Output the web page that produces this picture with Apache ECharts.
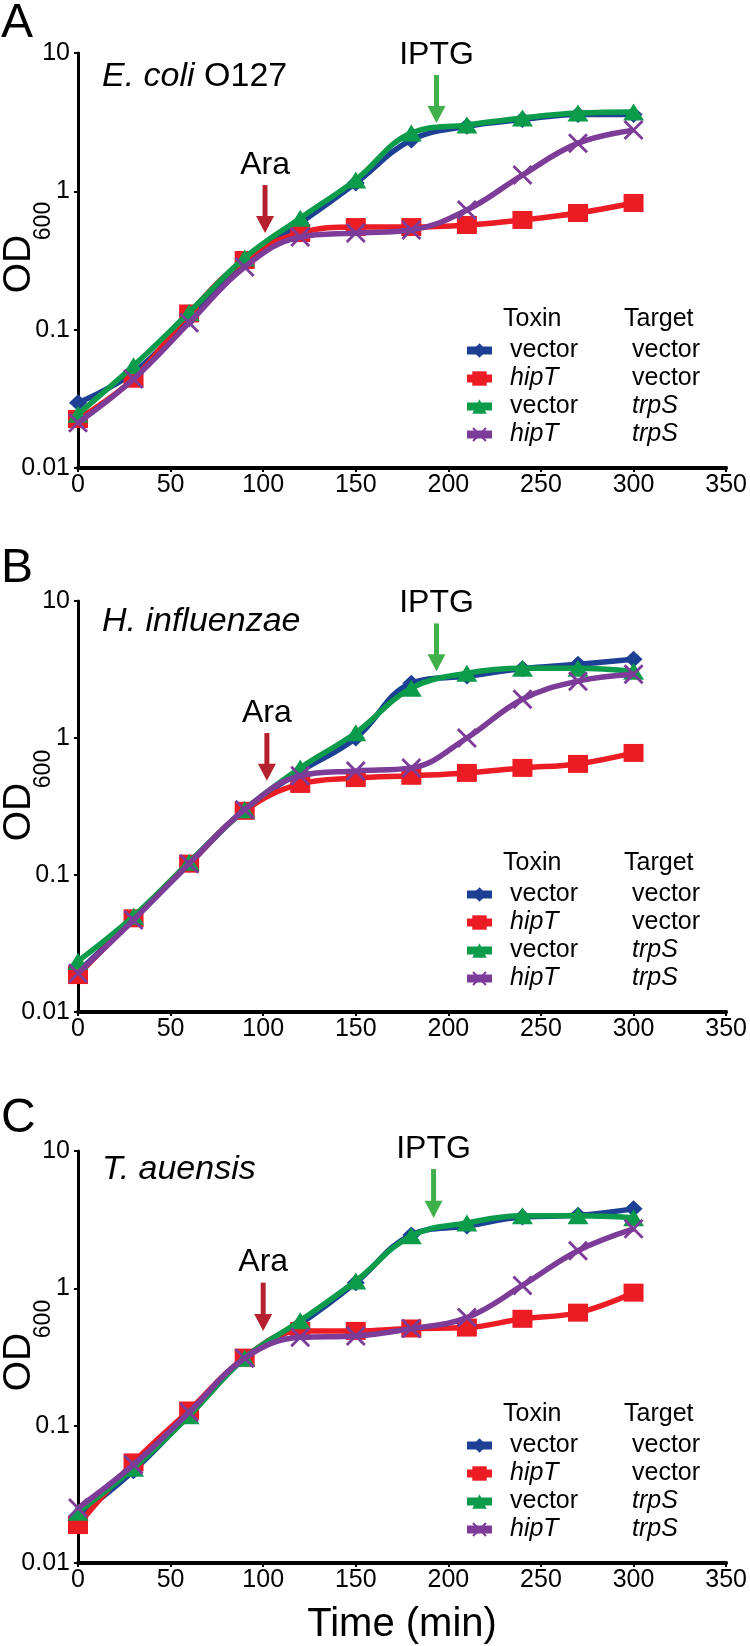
<!DOCTYPE html>
<html><head><meta charset="utf-8">
<script src="https://cdn.jsdelivr.net/npm/echarts@6/dist/echarts.min.js"></script>
<style>html,body{margin:0;padding:0;background:#fff}#c{width:750px;height:1646px}</style>
</head><body><div id="c"></div>
<script>
// ---- data ----
const times = [0, 30, 60, 90, 120, 150, 180, 210, 240, 270, 300];
const xTicks = [0, 50, 100, 150, 200, 250, 300, 350];
const yTicks = [0.01, 0.1, 1, 10];
const panelLetters = ['A', 'B', 'C'];
const species = [['E. coli', ' O127'], ['H. influenzae', ''], ['T. auensis', '']];
const legendToxin = ['vector', 'hipT', 'vector', 'hipT'];
const legendTarget = ['vector', 'vector', 'trpS', 'trpS'];

// Panel A (E. coli O127)
const aVecVec = [0.0296, 0.049, 0.12, 0.31, 0.59, 1.15, 2.35, 2.95, 3.3, 3.6, 3.6];
const aHipVec = [0.0226, 0.0442, 0.131, 0.319, 0.50, 0.552, 0.552, 0.571, 0.621, 0.697, 0.824];
const aVecTrp = [0.0245, 0.0548, 0.133, 0.33, 0.64, 1.21, 2.64, 3.02, 3.39, 3.68, 3.75];
const aHipTrp = [0.0212, 0.044, 0.112, 0.284, 0.468, 0.50, 0.526, 0.733, 1.31, 2.23, 2.77];
// Panel B (H. influenzae)
const bVecVec = [0.0195, 0.048, 0.12, 0.30, 0.57, 1.0, 2.51, 2.83, 3.2, 3.45, 3.76];
const bHipVec = [0.0186, 0.0483, 0.121, 0.294, 0.462, 0.51, 0.53, 0.556, 0.605, 0.647, 0.778];
const bVecTrp = [0.0235, 0.05, 0.124, 0.30, 0.605, 1.09, 2.31, 2.97, 3.23, 3.23, 3.07];
const bHipTrp = [0.0192, 0.047, 0.121, 0.30, 0.53, 0.575, 0.605, 1.0, 1.92, 2.6, 2.92];
// Panel C (T. auensis)
const cVecVec = [0.022, 0.047, 0.12, 0.31, 0.55, 1.1, 2.45, 2.84, 3.3, 3.4, 3.79];
const cHipVec = [0.0189, 0.054, 0.129, 0.313, 0.49, 0.49, 0.51, 0.518, 0.60, 0.665, 0.93];
const cVecTrp = [0.0234, 0.049, 0.118, 0.31, 0.58, 1.13, 2.41, 2.99, 3.37, 3.37, 3.26];
const cHipTrp = [0.0251, 0.052, 0.125, 0.31, 0.44, 0.45, 0.509, 0.612, 1.05, 1.88, 2.71];

// induction arrows: [time, OD at arrow top, OD at arrow tip]
const araArrows = [[101, 1.11, 0.5], [102, 1.087, 0.487], [100, 1.1, 0.49]];
const iptgArrows = [[193.6, 6.93, 3.12], [193.6, 6.86, 3.07], [192, 7.39, 3.26]];

// ---- layout / style ----
const FONT = "'Liberation Sans', Arial, Helvetica, sans-serif";
const gridTops = [53, 601, 1151];
const gridHeights = [415, 411, 412];
const GL = 78, GW = 649;
const colors = ['#1d3f94', '#ec1c24', '#0c9a4b', '#7c3c98'];
const symbols = ['diamond', 'rect', 'triangle',
  'path://M0,2 L2,0 L10,8 L18,0 L20,2 L12,10 L20,18 L18,20 L10,12 L2,20 L0,18 L8,10 Z'];
const symSizes = [[18, 17], [20, 18], [21, 17], [20, 20]];
const panelData = [[aVecVec, aHipVec, aVecTrp, aHipTrp], [bVecVec, bHipVec, bVecTrp, bHipTrp], [cVecVec, cHipVec, cVecTrp, cHipTrp]];
const seriesNames = legendToxin.map((t, i) => t + ' / ' + legendTarget[i]);

const grids = [], xAxes = [], yAxes = [], series = [], legends = [];
for (let p = 0; p < 3; p++) {
  grids.push({ left: GL, width: GW, top: gridTops[p], height: gridHeights[p] });
  xAxes.push({
    gridIndex: p, type: 'value', min: 0, max: 350, interval: 50,
    axisLine: { onZero: false, lineStyle: { color: '#000', width: 4 } },
    axisTick: { show: true, length: 4, lineStyle: { color: '#000', width: 2 } },
    axisLabel: { color: '#000', fontSize: 25, fontFamily: FONT, margin: 5,
      formatter: v => xTicks.indexOf(v) >= 0 ? String(v) : '' },
    splitLine: { show: false },
    name: p === 2 ? 'Time (min)' : '', nameLocation: 'middle', nameGap: 42,
    nameTextStyle: { color: '#000', fontSize: 40, fontFamily: FONT }
  });
  yAxes.push({
    gridIndex: p, type: 'log', logBase: 10, min: yTicks[0], max: yTicks[yTicks.length - 1],
    axisLine: { show: true, lineStyle: { color: '#000', width: 3 } },
    axisTick: { show: true, length: 4, lineStyle: { color: '#000', width: 2 } },
    axisLabel: { color: '#000', fontSize: 25, fontFamily: FONT, margin: 8,
      formatter: v => String(Number(Number(v).toPrecision(2))) },
    splitLine: { show: false }, minorTick: { show: false }
  });
  for (let s = 0; s < 4; s++) {
    series.push({
      type: 'line', name: seriesNames[s], xAxisIndex: p, yAxisIndex: p,
      data: times.map((t, i) => [t, panelData[p][s][i]]),
      smooth: 0.4, symbol: symbols[s], symbolSize: symSizes[s], showSymbol: true,
      lineStyle: { color: colors[s], width: 5.5 },
      itemStyle: { color: colors[s], borderWidth: 0 },
      z: 2 + s, emphasis: { disabled: true }, silent: true
    });
  }
  const bottom = gridTops[p] + gridHeights[p];
  legends.push({
    orient: 'vertical', left: 458, top: bottom - 135, itemWidth: 25, itemHeight: 18, itemGap: 3,
    data: seriesNames, selectedMode: false,
    lineStyle: { width: 8 },
    formatter: name => {
      const i = seriesNames.indexOf(name);
      const a = legendToxin[i], b = legendTarget[i];
      return '{s|}' + (a === 'hipT' ? '{i|' : '{n|') + a + '}' + (b === 'trpS' ? '{i|' : '{n|') + b + '}';
    },
    textStyle: {
      color: '#000', fontFamily: FONT, fontSize: 25,
      rich: {
        s: { width: 13 },
        n: { width: 122, fontSize: 25, fontFamily: FONT, color: '#000', lineHeight: 26 },
        i: { width: 122, fontSize: 25, fontFamily: FONT, color: '#000', fontStyle: 'italic', lineHeight: 26 }
      }
    }
  });
}

const chart = echarts.init(document.getElementById('c'), null, { renderer: 'canvas' });
chart.setOption({
  animation: false, backgroundColor: '#fff',
  grid: grids, xAxis: xAxes, yAxis: yAxes, series: series, legend: legends
});

// ---- annotations (text + arrows positioned through the axes) ----
const graphics = [];
const titleY = [24, 569, 1119];
const speciesY = [77, 622, 1170];
function txt(x, y, text, size, extra) {
  return Object.assign({ type: 'text', x: x, y: y, z: 50,
    style: Object.assign({ text: text, fill: '#000', font: size + 'px ' + FONT,
      textVerticalAlign: 'middle' }, extra || {}) });
}
function arrow(p, a, color, label) {
  const top = chart.convertToPixel({ gridIndex: p }, [a[0], a[1]]);
  const tip = chart.convertToPixel({ gridIndex: p }, [a[0], a[2]]);
  const x = top[0], hh = 17, hw = 9;
  graphics.push({ type: 'rect', z: 40, shape: { x: x - 2.5, y: top[1], width: 5, height: tip[1] - top[1] - hh + 1 }, style: { fill: color } });
  graphics.push({ type: 'polygon', z: 40, shape: { points: [[x - hw, tip[1] - hh], [x + hw, tip[1] - hh], [x, tip[1]]] }, style: { fill: color } });
  graphics.push(txt(x, top[1] - 20, label, 32, { textAlign: 'center' }));
}
for (let p = 0; p < 3; p++) {
  const bottom = gridTops[p] + gridHeights[p];
  graphics.push(txt(1, titleY[p], panelLetters[p], 48));
  graphics.push({ type: 'text', x: 102, y: speciesY[p], z: 50,
    style: { text: '{i|' + species[p][0] + '}' + (species[p][1] ? '{n|' + species[p][1] + '}' : ''),
      textVerticalAlign: 'middle', fill: '#000',
      rich: { i: { fontSize: 34, fontFamily: FONT, fontStyle: 'italic', fill: '#000' },
              n: { fontSize: 34, fontFamily: FONT, fill: '#000' } } } });
  // y-axis title OD600 (rotated)
  graphics.push({ type: 'text', x: 19, y: gridTops[p] + 211, rotation: Math.PI / 2, z: 50,
    style: { text: 'OD', fill: '#000', font: '39px ' + FONT, textAlign: 'center', textVerticalAlign: 'middle' } });
  graphics.push({ type: 'text', x: 44, y: gridTops[p] + 168, rotation: Math.PI / 2, z: 50,
    style: { text: '600', fill: '#000', font: '23px ' + FONT, textAlign: 'center', textVerticalAlign: 'middle' } });
  // legend header
  graphics.push(txt(503, bottom - 149, 'Toxin', 25));
  graphics.push(txt(624, bottom - 149, 'Target', 25));
  arrow(p, araArrows[p], '#b5202e', 'Ara');
  arrow(p, iptgArrows[p], '#40b04a', 'IPTG');
}
chart.setOption({ graphic: graphics });
</script></body></html>
